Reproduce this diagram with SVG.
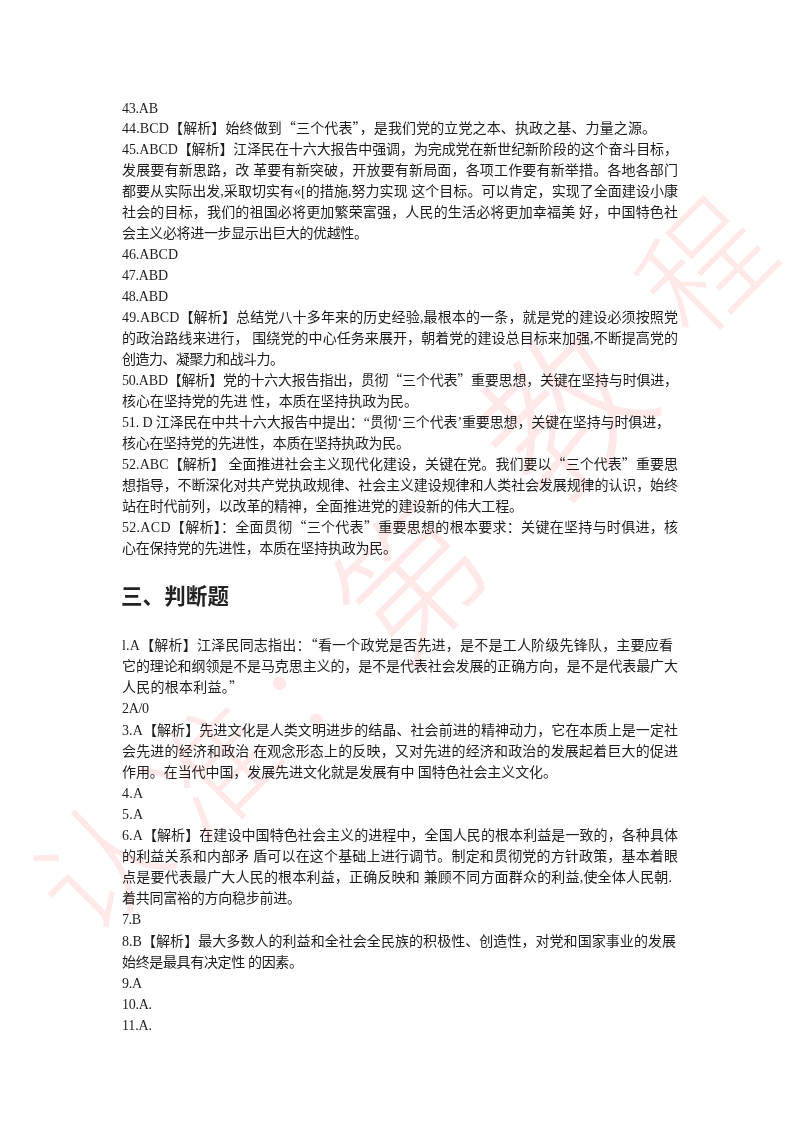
<svg xmlns="http://www.w3.org/2000/svg" width="800" height="1132" viewBox="0 0 800 1132">
<style>
.wm{font-family:"Noto Sans CJK SC",sans-serif;font-size:125px;font-weight:300;fill:#ffe8e8;text-anchor:middle}
.t{font-family:"Liberation Serif","Noto Sans CJK SC",serif;font-size:14px;fill:#1e1e1e}
.q{font-family:"Noto Sans CJK SC",sans-serif}
.h{font-family:"Noto Sans CJK SC",sans-serif;font-size:21.5px;font-weight:700;fill:#222}
</style>
<defs><filter id="soft" x="-2%" y="-2%" width="104%" height="104%"><feGaussianBlur stdDeviation="0.35"/></filter></defs>
<rect width="800" height="1132" fill="#fff"/>
<g id="watermark">
<text class="wm" transform="translate(101,868) rotate(-45) translate(0,45)">认</text>
<text class="wm" transform="translate(215,770) rotate(-45) translate(0,45)">准</text>
<text class="wm" transform="translate(296,700) rotate(-45) translate(0,34)">:</text>
<text class="wm" style="font-size:145px" transform="translate(412,583) rotate(-45) translate(0,52)">第</text>
<text class="wm" style="font-size:160px" transform="translate(565,415) rotate(-45) translate(0,57)">教</text>
<text class="wm" transform="translate(706,268) rotate(-45) translate(0,45)">程</text>
</g>
<g id="page-text" filter="url(#soft)">
<text class="t" x="122" y="113" textLength="36">43.AB</text>
<text class="t" x="122" y="133" textLength="534">44.BCD【解析】始终做到<tspan class="q">“</tspan>三个代表<tspan class="q">”</tspan>，是我们党的立党之本、执政之基、力量之源。</text>
<text class="t" x="122" y="154" textLength="556">45.ABCD【解析】江泽民在十六大报告中强调，为完成党在新世纪新阶段的这个奋斗目标，</text>
<text class="t" x="122" y="175" textLength="556">发展要有新思路，改 革要有新突破，开放要有新局面，各项工作要有新举措。各地各部门</text>
<text class="t" x="122" y="196" textLength="556">都要从实际出发,采取切实有«[的措施,努力实现 这个目标。可以肯定，实现了全面建设小康</text>
<text class="t" x="122" y="217" textLength="556">社会的目标，我们的祖国必将更加繁荣富强，人民的生活必将更加幸福美 好，中国特色社</text>
<text class="t" x="122" y="238" textLength="246">会主义必将进一步显示出巨大的优越性。</text>
<text class="t" x="122" y="259" textLength="56">46.ABCD</text>
<text class="t" x="122" y="280" textLength="46">47.ABD</text>
<text class="t" x="122" y="301" textLength="46">48.ABD</text>
<text class="t" x="122" y="322" textLength="556">49.ABCD【解析】总结党八十多年来的历史经验,最根本的一条，就是党的建设必须按照党</text>
<text class="t" x="122" y="343" textLength="556">的政治路线来进行， 围绕党的中心任务来展开，朝着党的建设总目标来加强,不断提高党的</text>
<text class="t" x="122" y="364" textLength="162">创造力、凝聚力和战斗力。</text>
<text class="t" x="122" y="385" textLength="556">50.ABD【解析】党的十六大报告指出，贯彻<tspan class="q">“</tspan>三个代表<tspan class="q">”</tspan>重要思想，关键在坚持与时俱进，</text>
<text class="t" x="122" y="406" textLength="296">核心在坚持党的先进 性，本质在坚持执政为民。</text>
<text class="t" x="122" y="427" textLength="548">51. D 江泽民在中共十六大报告中提出：“贯彻‘三个代表’重要思想，关键在坚持与时俱进，</text>
<text class="t" x="122" y="448" textLength="288">核心在坚持党的先进性，本质在坚持执政为民。</text>
<text class="t" x="122" y="469" textLength="556">52.ABC【解析】 全面推进社会主义现代化建设，关键在党。我们要以<tspan class="q">“</tspan>三个代表<tspan class="q">”</tspan>重要思</text>
<text class="t" x="122" y="490" textLength="556">想指导，不断深化对共产党执政规律、社会主义建设规律和人类社会发展规律的认识，始终</text>
<text class="t" x="122" y="511" textLength="401">站在时代前列，以改革的精神，全面推进党的建设新的伟大工程。</text>
<text class="t" x="122" y="532" textLength="556">52.ACD【解析】：全面贯彻<tspan class="q">“</tspan>三个代表<tspan class="q">”</tspan>重要思想的根本要求：关键在坚持与时俱进，核</text>
<text class="t" x="122" y="553" textLength="275">心在保持党的先进性，本质在坚持执政为民。</text>
<text class="h" x="121" y="604" textLength="108">三、判断题</text>
<text class="t" x="122" y="650" textLength="551">l.A【解析】江泽民同志指出：<tspan class="q">“</tspan>看一个政党是否先进，是不是工人阶级先锋队，主要应看</text>
<text class="t" x="122" y="671" textLength="556">它的理论和纲领是不是马克思主义的，是不是代表社会发展的正确方向，是不是代表最广大</text>
<text class="t" x="122" y="692" textLength="121">人民的根本利益。<tspan class="q">”</tspan></text>
<text class="t" x="122" y="713" textLength="27">2A/0</text>
<text class="t" x="122" y="735" textLength="556">3.A【解析】先进文化是人类文明进步的结晶、社会前进的精神动力，它在本质上是一定社</text>
<text class="t" x="122" y="756" textLength="556">会先进的经济和政治 在观念形态上的反映，又对先进的经济和政治的发展起着巨大的促进</text>
<text class="t" x="122" y="777" textLength="435">作用。在当代中国，发展先进文化就是发展有中 国特色社会主义文化。</text>
<text class="t" x="122" y="798" textLength="21">4.A</text>
<text class="t" x="122" y="819" textLength="21">5.A</text>
<text class="t" x="122" y="840" textLength="556">6.A【解析】在建设中国特色社会主义的进程中，全国人民的根本利益是一致的，各种具体</text>
<text class="t" x="122" y="861" textLength="556">的利益关系和内部矛 盾可以在这个基础上进行调节。制定和贯彻党的方针政策，基本着眼</text>
<text class="t" x="122" y="882" textLength="550">点是要代表最广大人民的根本利益，正确反映和 兼顾不同方面群众的利益,使全体人民朝.</text>
<text class="t" x="122" y="903" textLength="179">着共同富裕的方向稳步前进。</text>
<text class="t" x="122" y="924" textLength="19">7.B</text>
<text class="t" x="122" y="946" textLength="554">8.B【解析】最大多数人的利益和全社会全民族的积极性、创造性，对党和国家事业的发展</text>
<text class="t" x="122" y="967" textLength="181">始终是最具有决定性 的因素。</text>
<text class="t" x="122" y="988" textLength="20">9.A</text>
<text class="t" x="122" y="1009" textLength="30">10.A.</text>
<text class="t" x="122" y="1030" textLength="30">11.A.</text>
</g>
</svg>
